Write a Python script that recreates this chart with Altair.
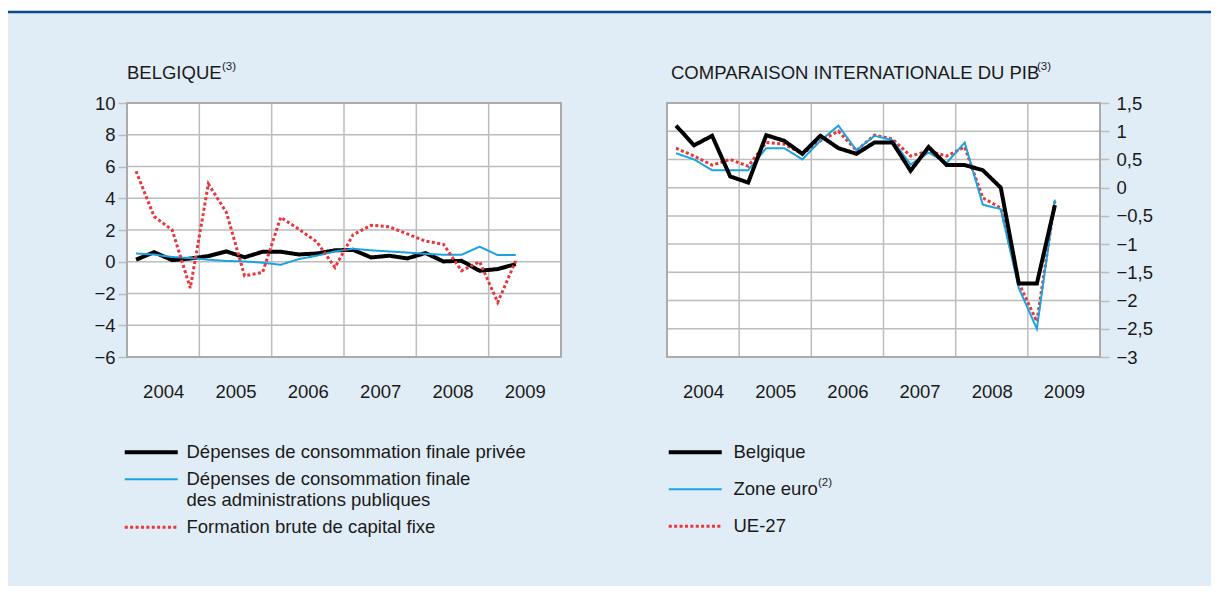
import altair as alt
import pandas as pd

# ---------------- data ----------------
QUARTERS = ["2004T1", "2004T2", "2004T3", "2004T4",
            "2005T1", "2005T2", "2005T3", "2005T4",
            "2006T1", "2006T2", "2006T3", "2006T4",
            "2007T1", "2007T2", "2007T3", "2007T4",
            "2008T1", "2008T2", "2008T3", "2008T4",
            "2009T1", "2009T2"]
YEARS = [2004, 2005, 2006, 2007, 2008, 2009]
X_DOMAIN = [2004, 2010]

LEFT_TITLE = "BELGIQUE"
LEFT_NOTE = "(3)"
LEFT_SERIES = ["Dépenses de consommation finale privée",
               "Dépenses de consommation finale des administrations publiques",
               "Formation brute de capital fixe"]
LEFT_LABEL_LINES = ["Dépenses de consommation finale", "des administrations publiques"]
PRIVEE = [0.13, 0.6, 0.1, 0.2, 0.36, 0.65, 0.28, 0.63, 0.63, 0.46, 0.52, 0.72,
          0.75, 0.27, 0.38, 0.21, 0.55, 0.02, 0.06, -0.57, -0.46, -0.15]
PUBLIQUES = [0.52, 0.45, 0.3, 0.23, 0.13, 0.05, 0.02, -0.06, -0.19, 0.17, 0.38, 0.65,
             0.82, 0.72, 0.65, 0.58, 0.5, 0.44, 0.44, 0.95, 0.42, 0.42]
FBCF = [5.7, 2.85, 2.0, -1.66, 4.9, 3.1, -0.88, -0.67, 2.8, 2.05, 1.25, -0.36,
        1.7, 2.3, 2.2, 1.75, 1.3, 1.1, -0.57, 0.0, -2.56, 0.06]
LEFT_Y_DOMAIN = [-6, 10]
LEFT_Y_TICKS = [-6, -4, -2, 0, 2, 4, 6, 8, 10]

RIGHT_TITLE = "COMPARAISON INTERNATIONALE DU PIB"
RIGHT_NOTE = "(3)"
RIGHT_SERIES = ["Belgique", "Zone euro", "UE-27"]
ZONE_EURO_NOTE = "(2)"
BELGIQUE = [1.1, 0.75, 0.92, 0.2, 0.09, 0.93, 0.83, 0.6, 0.92, 0.7, 0.6, 0.8,
            0.8, 0.3, 0.72, 0.4, 0.4, 0.31, 0.0, -1.7, -1.7, -0.31]
ZONE_EURO = [0.61, 0.5, 0.31, 0.31, 0.31, 0.7, 0.7, 0.5, 0.83, 1.1, 0.66, 0.92,
             0.84, 0.41, 0.62, 0.44, 0.8, -0.3, -0.38, -1.78, -2.5, -0.21]
UE27 = [0.7, 0.56, 0.4, 0.5, 0.38, 0.8, 0.77, 0.6, 0.83, 1.0, 0.66, 0.93,
        0.86, 0.56, 0.65, 0.56, 0.72, -0.18, -0.36, -1.69, -2.37, -0.24]
RIGHT_Y_DOMAIN = [-3, 1.5]
RIGHT_Y_TICKS = [-3, -2.5, -2, -1.5, -1, -0.5, 0, 0.5, 1, 1.5]

# ---------------- style ----------------
FONT = "Liberation Sans"
FS = 18.5
SUP_FS = 11.5
TEXT = "#1a1a1a"
BG = "#e1edf6"
DARK_BLUE = "#0b4a8c"
GRID = "#bcbcbc"
BORDER = "#ababab"
COLORS = ["#000000", "#1ba3e0", "#e8363c"]
WIDTHS = [4, 2, 3]
DASHES = [[1, 0], [1, 0], [3, 2.4]]
W, H = 973, 254


def qpos(q):
    return int(q[:4]) + (int(q[-1]) - 0.5) / 4


XPOS = [qpos(q) for q in QUARTERS]


def make_legend(series, legend_x, row_pad, label_offset, symbol_offset, label_expr=None):
    expr = str(WIDTHS[-1])
    for s, w in zip(reversed(series[:-1]), reversed(WIDTHS[:-1])):
        expr = f"datum.value == '{s}' ? {w} : ({expr})"
    kw = dict(orient="none", legendX=legend_x, legendY=340, direction="vertical",
              title=None, symbolType="stroke", symbolSize=2809, labelFont=FONT,
              labelFontSize=FS, labelColor=TEXT, labelLimit=1000, rowPadding=row_pad,
              labelOffset=label_offset, symbolOffset=symbol_offset, padding=0,
              symbolStrokeWidth={"expr": expr})
    if label_expr:
        kw["labelExpr"] = label_expr
    return alt.Legend(**kw)


def panel(series, values, order, xrange, ydom, yticks, yaxis, title, title_dx, note, note_dx,
          legend, extra=None):
    xs = alt.Scale(domain=X_DOMAIN, range=xrange, nice=False, zero=False)
    ys = alt.Scale(domain=ydom, nice=False, zero=False)
    xaxis = alt.Axis(orient="bottom", values=[y + 0.5 for y in YEARS],
                     labelExpr="format(floor(datum.value), 'd')", ticks=False, tickSize=0,
                     domain=False, grid=False, labelPadding=25, labelFlush=False,
                     labelOverlap=False, title=None)

    def X(f):
        return alt.X(f, scale=xs, axis=xaxis)

    def Y(f):
        return alt.Y(f, scale=ys, axis=yaxis)

    frame = pd.DataFrame({"x0": [X_DOMAIN[0]], "x1": [X_DOMAIN[1]],
                          "y0": [ydom[0]], "y1": [ydom[1]]})
    bg = alt.Chart(frame).mark_rect(fill="white", strokeWidth=0).encode(
        x=X("x0:Q"), x2="x1:Q", y=Y("y0:Q"), y2="y1:Q")
    hgrid = alt.Chart(pd.DataFrame({"v": yticks, "x0": X_DOMAIN[0], "x1": X_DOMAIN[1]})).mark_rule(
        color=GRID, strokeWidth=1.5).encode(y=Y("v:Q"), x=X("x0:Q"), x2="x1:Q")
    vgrid = alt.Chart(pd.DataFrame({"v": YEARS + [X_DOMAIN[1]], "y0": ydom[0], "y1": ydom[1]})).mark_rule(
        color=GRID, strokeWidth=1.5).encode(x=X("v:Q"), y=Y("y0:Q"), y2="y1:Q")
    border = alt.Chart(frame).mark_rect(fillOpacity=0, stroke=BORDER, strokeWidth=2).encode(
        x=X("x0:Q"), x2="x1:Q", y=Y("y0:Q"), y2="y1:Q")
    lines = []
    for i in order:
        d = pd.DataFrame({"x": XPOS, "v": values[i], "series": series[i]})
        lines.append(alt.Chart(d).mark_line().encode(
            x=X("x:Q"), y=Y("v:Q"),
            color=alt.Color("series:N", scale=alt.Scale(domain=series, range=COLORS), legend=legend),
            strokeDash=alt.StrokeDash("series:N", scale=alt.Scale(domain=series, range=DASHES),
                                      legend=legend),
            strokeWidth=alt.value(WIDTHS[i])))
    tdf = pd.DataFrame({"t": [title], "n": [note], "x": [X_DOMAIN[0]]})
    ttl = alt.Chart(tdf).mark_text(
        align="left", baseline="alphabetic", fontSize=FS, font=FONT, color=TEXT, dx=title_dx).encode(
        x=X("x:Q"), y=alt.value(-24), text="t:N")
    sup = alt.Chart(tdf).mark_text(
        align="left", baseline="alphabetic", fontSize=SUP_FS, font=FONT, color=TEXT, dx=note_dx).encode(
        x=X("x:Q"), y=alt.value(-33), text="n:N")
    layers = [bg, hgrid, vgrid, border] + lines + [ttl, sup]
    if extra:
        layers = layers + extra
    return alt.layer(*layers)


# decorative top band of the page frame
one = alt.Data(values=[{"k": 1}])
top_white = alt.Chart(one).mark_rule(color="white", strokeWidth=3).encode(
    x=alt.value(-119), x2=alt.value(1084), y=alt.value(-93.5))
top_line = alt.Chart(one).mark_rule(color=DARK_BLUE, strokeWidth=2.5).encode(
    x=alt.value(-119), x2=alt.value(1084), y=alt.value(-91))
# footnote marker after the "Zone euro" legend label
zone_note = alt.Chart(alt.Data(values=[{"n": ZONE_EURO_NOTE}])).mark_text(
    align="left", baseline="alphabetic", fontSize=SUP_FS, font=FONT, color=TEXT).encode(
    x=alt.value(691), y=alt.value(382.5), text="n:N")

left_yaxis = alt.Axis(orient="left", values=LEFT_Y_TICKS, grid=False, domain=False, tickSize=9,
                      tickColor=GRID, tickWidth=1.5, labelPadding=3, title=None)
right_yaxis = alt.Axis(orient="right", values=RIGHT_Y_TICKS, format="~f",
                       labelExpr="replace(datum.label, '.', ',')", grid=False, domain=False,
                       tickSize=9, tickColor=GRID, tickWidth=1.5, labelPadding=7, title=None)

left_label_expr = ("datum.label == '" + LEFT_SERIES[1] + "' ? ['" + LEFT_LABEL_LINES[0] +
                   "', '" + LEFT_LABEL_LINES[1] + "'] : datum.label")

left = panel(LEFT_SERIES, [PRIVEE, PUBLIQUES, FBCF], [0, 1, 2], [0, 434], LEFT_Y_DOMAIN,
             LEFT_Y_TICKS, left_yaxis, LEFT_TITLE, 0, LEFT_NOTE, 95,
             make_legend(LEFT_SERIES, -2, 8, 26, 17, left_label_expr),
             extra=[top_white, top_line])
right = panel(RIGHT_SERIES, [BELGIQUE, ZONE_EURO, UE27], [2, 1, 0], [540, 973], RIGHT_Y_DOMAIN,
              RIGHT_Y_TICKS, right_yaxis, RIGHT_TITLE, 4, RIGHT_NOTE, 370,
              make_legend(RIGHT_SERIES, 541, 18, 29, 18), extra=[zone_note])

chart = alt.layer(left, right).resolve_scale(
    x="independent", y="independent", color="independent", strokeDash="independent"
).properties(
    width=W, height=H,
    autosize=alt.AutoSizeParams(type="none"),
    padding={"left": 119, "top": 95, "right": 111, "bottom": 229},
    background=BG,
).configure(font=FONT).configure_view(stroke="transparent").configure_axis(
    labelFont=FONT, labelFontSize=FS, labelColor=TEXT
).configure_legend(labelFont=FONT, labelFontSize=FS, labelColor=TEXT)

chart.save("out.html", embed_options={"renderer": "svg", "actions": False})
